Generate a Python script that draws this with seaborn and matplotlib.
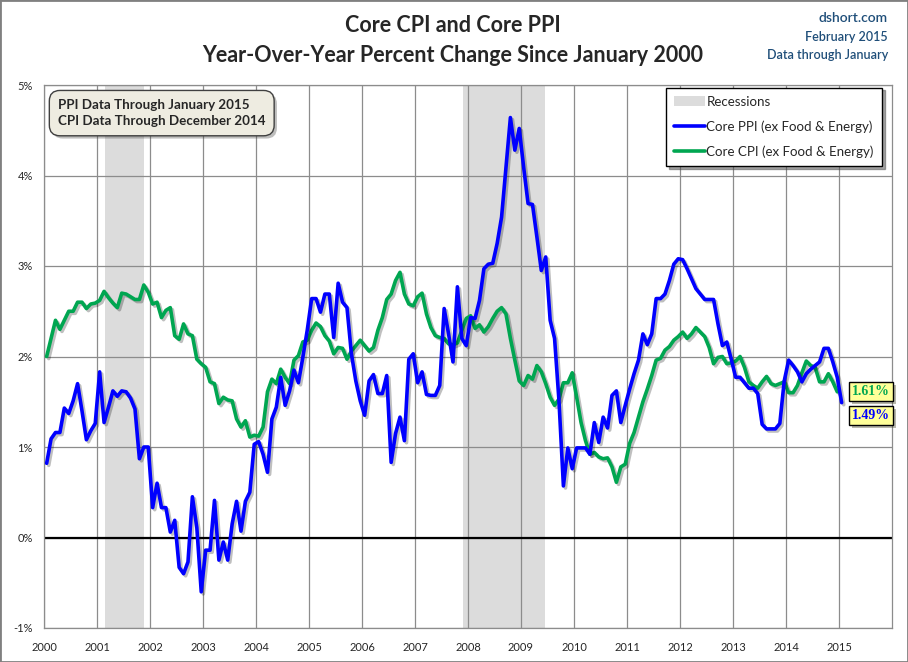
import numpy as np
import pandas as pd
import matplotlib
matplotlib.use("Agg")
import matplotlib.pyplot as plt
import matplotlib.patheffects as pe
from matplotlib.patches import Rectangle, Patch
from matplotlib.lines import Line2D
import seaborn as sns

# Core PPI yoy %, Jan 2000 - Jan 2015
ppi = [0.82, 1.09, 1.16, 1.16, 1.43, 1.37, 1.51, 1.70, 1.40, 1.08, 1.18, 1.26,
       1.83, 1.27, 1.44, 1.62, 1.56, 1.62, 1.61, 1.54, 1.42, 0.87, 1.00, 1.00,
       0.33, 0.60, 0.33, 0.33, 0.06, 0.19, -0.33, -0.40, -0.27, 0.45, 0.11, -0.60,
       -0.14, -0.14, 0.41, -0.25, -0.05, -0.25, 0.15, 0.40, 0.07, 0.40, 0.50, 1.03,
       1.06, 0.92, 0.72, 1.31, 1.44, 1.77, 1.46, 1.62, 1.85, 1.71, 1.99, 2.29,
       2.64, 2.64, 2.49, 2.69, 2.69, 2.21, 2.81, 2.60, 2.54, 2.03, 1.73, 1.51,
       1.35, 1.73, 1.80, 1.59, 1.59, 1.79, 0.83, 1.15, 1.33, 1.07, 1.97, 2.03,
       1.71, 1.83, 1.58, 1.57, 1.57, 1.68, 2.53, 2.25, 1.94, 2.77, 2.20, 2.12,
       2.43, 2.42, 2.62, 2.97, 3.02, 3.03, 3.25, 3.54, 4.09, 4.64, 4.28, 4.52,
       4.09, 3.69, 3.68, 3.32, 2.95, 3.10, 2.40, 2.20, 1.51, 0.57, 0.99, 0.76,
       0.99, 0.99, 0.99, 0.92, 1.27, 1.05, 1.33, 1.21, 1.57, 1.62, 1.27, 1.46,
       1.64, 1.81, 1.96, 2.25, 2.13, 2.25, 2.64, 2.64, 2.69, 2.84, 3.02, 3.08,
       3.07, 2.97, 2.86, 2.75, 2.69, 2.63, 2.63, 2.63, 2.36, 2.12, 2.16, 1.97,
       1.77, 1.77, 1.71, 1.65, 1.65, 1.59, 1.25, 1.20, 1.20, 1.20, 1.26, 1.73,
       1.96, 1.90, 1.83, 1.72, 1.81, 1.86, 1.90, 1.94, 2.09, 2.09, 1.94, 1.77,
       1.49]

# Core CPI yoy %, Jan 2000 - Dec 2014
cpi = [2.00, 2.20, 2.40, 2.30, 2.40, 2.50, 2.50, 2.60, 2.60, 2.53, 2.58, 2.59,
       2.62, 2.72, 2.65, 2.59, 2.54, 2.70, 2.69, 2.66, 2.63, 2.63, 2.79, 2.71,
       2.58, 2.60, 2.43, 2.51, 2.54, 2.23, 2.19, 2.36, 2.25, 2.23, 1.97, 1.92,
       1.88, 1.72, 1.70, 1.48, 1.55, 1.52, 1.51, 1.31, 1.22, 1.29, 1.11, 1.13,
       1.12, 1.22, 1.61, 1.75, 1.70, 1.86, 1.77, 1.70, 1.96, 2.01, 2.16, 2.18,
       2.29, 2.37, 2.33, 2.23, 2.17, 2.03, 2.10, 2.09, 1.97, 2.06, 2.12, 2.18,
       2.12, 2.06, 2.10, 2.29, 2.43, 2.63, 2.69, 2.84, 2.93, 2.69, 2.58, 2.56,
       2.66, 2.70, 2.47, 2.32, 2.23, 2.21, 2.20, 2.14, 2.13, 2.15, 2.29, 2.42,
       2.45, 2.31, 2.35, 2.27, 2.33, 2.42, 2.50, 2.54, 2.47, 2.20, 1.96, 1.73,
       1.68, 1.79, 1.75, 1.90, 1.83, 1.70, 1.55, 1.46, 1.53, 1.71, 1.71, 1.82,
       1.55, 1.27, 1.07, 0.92, 0.94, 0.89, 0.87, 0.88, 0.78, 0.61, 0.78, 0.81,
       1.04, 1.16, 1.33, 1.50, 1.64, 1.79, 1.96, 1.98, 2.07, 2.11, 2.18, 2.22,
       2.27, 2.20, 2.25, 2.32, 2.27, 2.22, 2.10, 1.92, 1.99, 2.00, 1.92, 1.93,
       1.95, 2.00, 1.88, 1.72, 1.68, 1.65, 1.72, 1.78, 1.70, 1.68, 1.70, 1.72,
       1.60, 1.60, 1.68, 1.82, 1.95, 1.90, 1.88, 1.72, 1.72, 1.81, 1.72, 1.61]

recessions = [(2001.15, 2001.88), (2007.91, 2009.46)]
years = list(range(2000, 2016))
yticks = [-1, 0, 1, 2, 3, 4, 5]

ppi_name = "Core PPI (ex Food & Energy)"
cpi_name = "Core CPI (ex Food & Energy)"
blue = "#0000FF"
green = "#00A651"

df = pd.DataFrame({
    "x": np.concatenate([2000 + (np.arange(len(ppi)) + 0.6) / 12,
                         2000 + (np.arange(len(cpi)) + 0.6) / 12]),
    "value": ppi + cpi,
    "series": [ppi_name] * len(ppi) + [cpi_name] * len(cpi),
})

sns.set_style("white")
plt.rcParams["font.family"] = ["Lato", "DejaVu Sans"]

fig = plt.figure(figsize=(9.08, 6.62), dpi=100)
ax = fig.add_axes([44 / 908, 1 - 628 / 662, 848 / 908, 543 / 662])

for a, b in recessions:
    ax.axvspan(a, b, color="#DCDCDC", lw=0, zorder=0)

sns.lineplot(data=df, x="x", y="value", hue="series",
             palette={ppi_name: blue, cpi_name: green},
             hue_order=[cpi_name, ppi_name],
             lw=2.6, ax=ax, legend=False, zorder=3)
for ln in ax.lines:
    ln.set_path_effects([pe.SimpleLineShadow(offset=(1.5, -1.5), alpha=0.25,
                                             shadow_color="black"), pe.Normal()])

ax.axhline(0, color="black", lw=1.6, zorder=2)

ax.set_xlim(2000, 2016)
ax.set_ylim(-1, 5)
ax.set_xticks(years)
ax.set_xticklabels([str(y) for y in years])
ax.set_yticks(yticks)
ax.set_yticklabels([f"{v}%" for v in yticks])
ax.grid(True, color="#8C8C8C", lw=0.9, zorder=1)
ax.set_axisbelow(True)
ax.tick_params(axis="x", length=0, pad=10, labelsize=8)
ax.tick_params(axis="y", length=0, pad=8, labelsize=8)
for s in ax.spines.values():
    s.set_color("#8C8C8C")
    s.set_linewidth(0.9)
ax.set_xlabel("")
ax.set_ylabel("")

# note box, top left
t = ax.text(0.0165, 0.974, "PPI Data Through January 2015\nCPI Data Through December 2014",
            transform=ax.transAxes, ha="left", va="top", fontsize=9.6,
            fontweight="bold", linespacing=1.4, zorder=6,
            bbox=dict(boxstyle="round,pad=0.65,rounding_size=0.8",
                      fc="#EEECE1", ec="#404040", lw=1))
t.get_bbox_patch().set_path_effects([pe.withSimplePatchShadow(offset=(2, -2), alpha=0.35)])

handles = [Patch(fc="#DCDCDC", ec="none"),
           Line2D([], [], color=blue, lw=2.6),
           Line2D([], [], color=green, lw=2.6)]
leg = ax.legend(handles, ["Recessions", ppi_name, cpi_name],
                loc="upper right", bbox_to_anchor=(0.988, 0.995), borderaxespad=0,
                frameon=True, fancybox=False, shadow=True, edgecolor="black",
                fontsize=9.6, labelspacing=0.95, handlelength=2.3,
                handletextpad=0.1, borderpad=0.6)
leg.get_frame().set_linewidth(1)
leg.set_zorder(7)

# end-value labels
box = dict(boxstyle="square,pad=0.22", fc="#FFFF99", ec="black", lw=1)
for val, yv, col in [(cpi[-1], cpi[-1], green), (ppi[-1], cpi[-1] - 0.265, blue)]:
    lab = ax.text(2015.25, yv, f"{val:.2f}%", ha="left", va="center", fontsize=10,
                  fontweight="bold", color=col, family=["Liberation Serif"], bbox=box,
                  zorder=8, clip_on=False)
    lab.get_bbox_patch().set_path_effects([pe.withSimplePatchShadow(offset=(2, -2), alpha=0.4)])

fig.text(0.499, 1 - 25 / 662, "Core CPI and Core PPI", ha="center", va="center",
         fontsize=15.5, fontweight="bold")
fig.text(0.499, 1 - 55 / 662, "Year-Over-Year Percent Change Since January 2000",
         ha="center", va="center", fontsize=15.5, fontweight="bold")
side = "#1F4E79"
fig.text(888 / 908, 1 - 18 / 662, "dshort.com", ha="right", va="center", fontsize=10,
         color=side, fontweight="semibold")
fig.text(888 / 908, 1 - 37 / 662, "February 2015", ha="right", va="center", fontsize=9,
         color=side, fontweight="semibold")
fig.text(888 / 908, 1 - 55 / 662, "Data through January", ha="right", va="center",
         fontsize=9, color=side, fontweight="semibold")

fig.patches.append(Rectangle((0, 0), 1, 1, transform=fig.transFigure, fill=False,
                             ec="#808080", lw=2))

fig.savefig("out.png", dpi=100)
